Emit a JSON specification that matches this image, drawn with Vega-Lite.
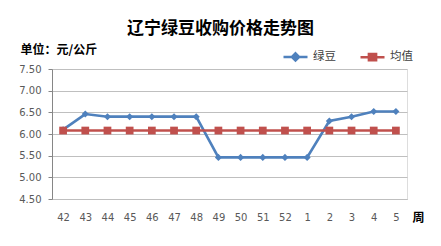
{
  "$schema": "https://vega.github.io/schema/vega-lite/v6.json",
  "width": 355,
  "height": 130,
  "autosize": {"type": "none"},
  "padding": {"left": 52, "top": 69, "right": 34, "bottom": 47},
  "background": "white",
  "title": {"text": "辽宁绿豆收购价格走势图", "fontSize": 17, "font": "Noto Sans CJK SC", "fontWeight": "bold", "color": "#000000", "anchor": "middle", "dx": -9, "offset": 5},
  "data": {"values": [
    {"week": "42", "series": "绿豆", "value": 6.10},
    {"week": "43", "series": "绿豆", "value": 6.46},
    {"week": "44", "series": "绿豆", "value": 6.40},
    {"week": "45", "series": "绿豆", "value": 6.40},
    {"week": "46", "series": "绿豆", "value": 6.40},
    {"week": "47", "series": "绿豆", "value": 6.40},
    {"week": "48", "series": "绿豆", "value": 6.40},
    {"week": "49", "series": "绿豆", "value": 5.46},
    {"week": "50", "series": "绿豆", "value": 5.46},
    {"week": "51", "series": "绿豆", "value": 5.46},
    {"week": "52", "series": "绿豆", "value": 5.46},
    {"week": "1", "series": "绿豆", "value": 5.46},
    {"week": "2", "series": "绿豆", "value": 6.30},
    {"week": "3", "series": "绿豆", "value": 6.40},
    {"week": "4", "series": "绿豆", "value": 6.52},
    {"week": "5", "series": "绿豆", "value": 6.52},
    {"week": "42", "series": "均值", "value": 6.08},
    {"week": "43", "series": "均值", "value": 6.08},
    {"week": "44", "series": "均值", "value": 6.08},
    {"week": "45", "series": "均值", "value": 6.08},
    {"week": "46", "series": "均值", "value": 6.08},
    {"week": "47", "series": "均值", "value": 6.08},
    {"week": "48", "series": "均值", "value": 6.08},
    {"week": "49", "series": "均值", "value": 6.08},
    {"week": "50", "series": "均值", "value": 6.08},
    {"week": "51", "series": "均值", "value": 6.08},
    {"week": "52", "series": "均值", "value": 6.08},
    {"week": "1", "series": "均值", "value": 6.08},
    {"week": "2", "series": "均值", "value": 6.08},
    {"week": "3", "series": "均值", "value": 6.08},
    {"week": "4", "series": "均值", "value": 6.08},
    {"week": "5", "series": "均值", "value": 6.08}
  ]},
  "encoding": {
    "x": {
      "field": "week", "type": "ordinal",
      "sort": ["42","43","44","45","46","47","48","49","50","51","52","1","2","3","4","5"],
      "scale": {"type": "point", "padding": 0.5},
      "axis": {
        "title": "周", "titleX": 366, "titleY": 18, "titleAlign": "center", "titleBaseline": "middle",
        "titleFont": "Noto Sans CJK SC", "titleFontSize": 12, "titleFontWeight": "bold", "titleColor": "#000000",
        "labelAngle": 0, "labelFont": "DejaVu Sans", "labelFontSize": 10, "labelColor": "#595959", "labelPadding": 13,
        "ticks": false, "domain": true, "domainColor": "#BFBFBF", "grid": false
      }
    },
    "y": {
      "field": "value", "type": "quantitative",
      "scale": {"domain": [4.5, 7.5], "nice": false, "zero": false},
      "axis": {
        "title": "单位：元/公斤", "titleAngle": 0, "titleX": -32, "titleY": -20, "titleAlign": "left", "titleBaseline": "middle",
        "titleFont": "Noto Sans CJK SC", "titleFontSize": 12, "titleFontWeight": "bold", "titleColor": "#000000",
        "values": [4.5, 5, 5.5, 6, 6.5, 7, 7.5], "format": ".2f",
        "labelFont": "DejaVu Sans", "labelFontSize": 10, "labelColor": "#595959", "labelPadding": 7,
        "tickSize": 4, "tickColor": "#868686", "domainColor": "#868686", "grid": true, "gridColor": "#BFBFBF"
      }
    },
    "color": {
      "field": "series", "type": "nominal",
      "scale": {"domain": ["绿豆", "均值"], "range": ["#4F81BD", "#C0504D"]},
      "legend": {
        "orient": "none", "legendX": 230, "legendY": -26, "direction": "horizontal", "title": null, "padding": 0,
        "labelFont": "Noto Sans CJK SC", "labelFontSize": 11.5, "labelColor": "#404040", "labelOffset": 4,
        "columnPadding": 19, "symbolSize": 576,
        "encode": {"symbols": {"update": {
          "shape": {"signal": "datum.value === '绿豆' ? 'M-1,0H1M0,-0.3L0.3,0L0,0.3L-0.3,0Z' : 'M-1,0H1M-0.3,-0.27H0.3V0.27H-0.3Z'"},
          "fill": {"scale": "color", "field": "value"},
          "stroke": {"scale": "color", "field": "value"},
          "strokeWidth": {"value": 2.5},
          "opacity": {"value": 1}
        }}}
      }
    }
  },
  "layer": [
    {"mark": {"type": "line", "strokeWidth": 2.6}},
    {
      "transform": [{"filter": "datum.series === '绿豆'"}],
      "mark": {"type": "point", "filled": true, "opacity": 1, "size": 50, "shape": "diamond"}
    },
    {
      "transform": [{"filter": "datum.series === '均值'"}],
      "mark": {"type": "point", "filled": true, "opacity": 1, "size": 60, "shape": "square"}
    }
  ]
}
